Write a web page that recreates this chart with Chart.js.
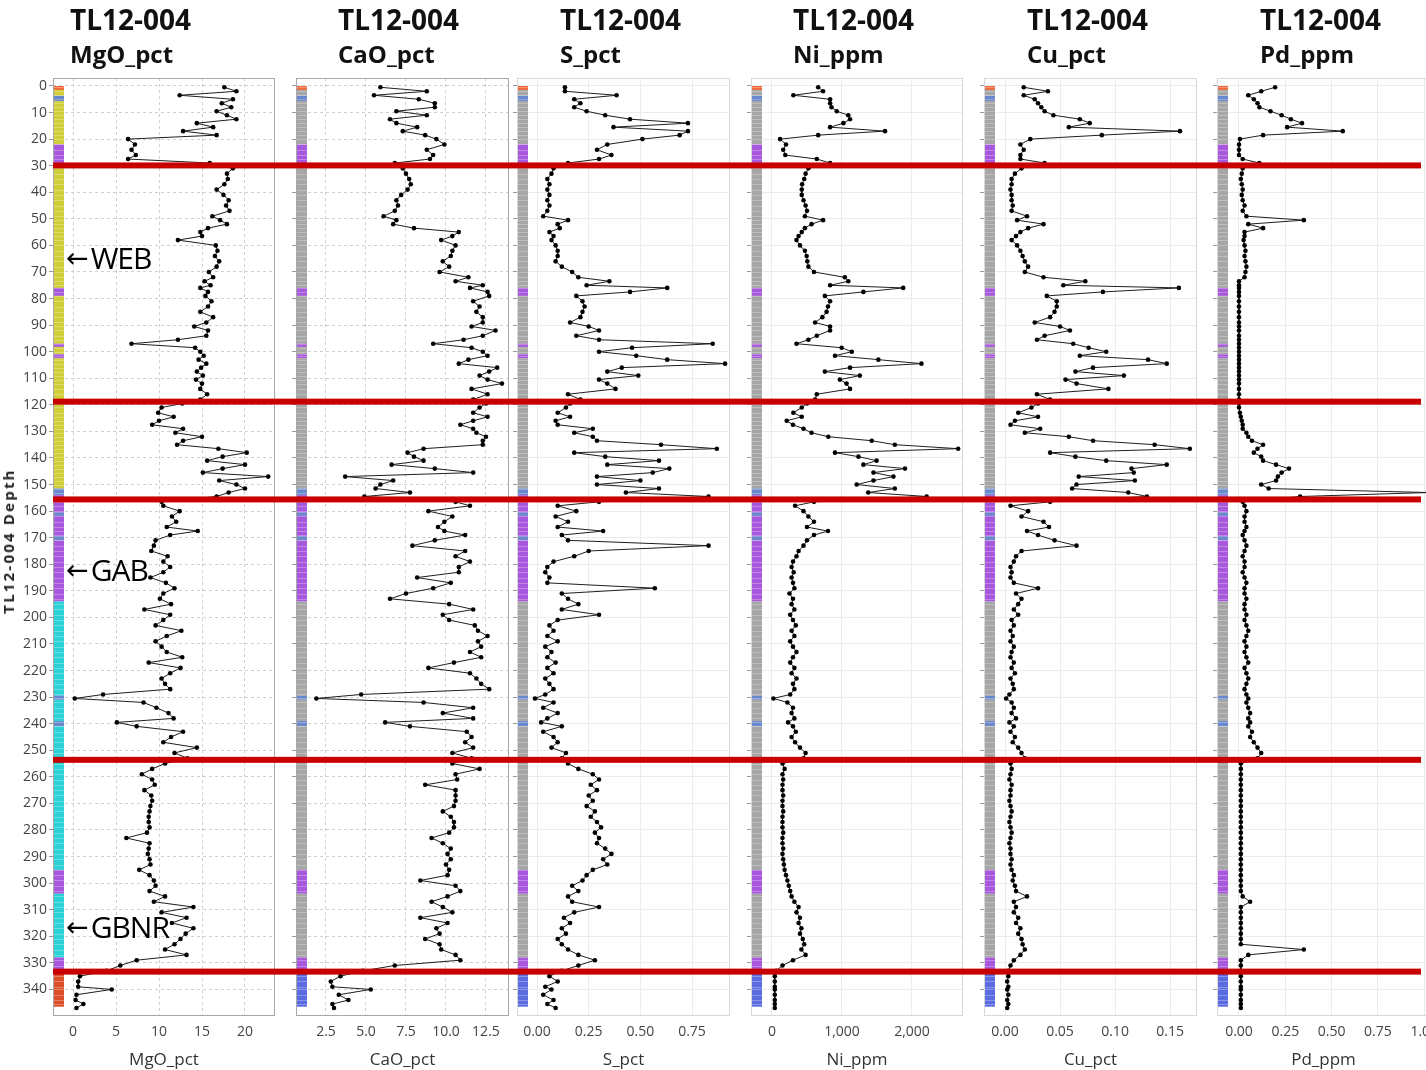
<!DOCTYPE html>
<html><head><meta charset="utf-8">
<script src="https://cdn.jsdelivr.net/npm/chart.js@4.4.1/dist/chart.umd.min.js"></script>
<style>
html,body{margin:0;padding:0;background:#fff;width:1426px;height:1070px;overflow:hidden;}
#wrap{position:relative;width:1426px;height:1070px;overflow:hidden;}
canvas{position:absolute;top:0;}
.t{position:absolute;font-family:"Open Sans";font-weight:700;color:#111;white-space:nowrap;}
.t1{font-size:28px;line-height:28px;top:5px;}
.t2{font-size:24px;line-height:24px;top:42px;}
.ann{position:absolute;font-family:"Open Sans";font-size:30px;line-height:30px;letter-spacing:-1px;color:#000;white-space:nowrap;}
.ann .ar{font-family:"DejaVu Sans";font-size:27px;letter-spacing:0;position:relative;top:-2px;margin-right:2px;}
.ytitle{position:absolute;left:8px;top:541px;transform:translate(-50%,-50%) rotate(-90deg);font-family:"Open Sans";font-weight:700;font-size:15px;letter-spacing:2.2px;color:#222;white-space:nowrap;}
</style></head><body><div id="wrap"></div>
<script>
// ---------- data ----------
const depth = [
 0.5,2,3.5,5,6.5,8,9.5,11,12.5,14,15.5,17,18.5,20,22,24,26,27.5,29,
 31,33,35,37,39,41,43,45,47,49,50.5,52,53.5,55,56.5,58,60,62,64,66,68,70,72,73.5,75,76,77.5,79,81,83,85,87,89,90.5,92,94,95.5,97,98.5,100,101.5,103,104.5,106,107.5,109,110.5,112,114,116,118,119.5,
 121,123,124.5,126,127.5,129,130.5,132,133.5,135,136.5,138,139.5,141,142.5,144,145.5,147,148.5,150,151.5,153,154.5,
 156.5,158,160,162,164,166,167.5,169,171,173,175,177,179,181,183,185,187,189,191,193,195,197,199,201,203,205,207,209,211,213,215,217,219,221,223,225,227,229,230.5,232,234,236,238,239.5,241,243,245,247,249,251,253,
 255,257,259,261,263,265,267,269,271,273,275,277,279,281,283,285,287,289,291,293,295,297,299,301,303,305,307,309,311,313,315,317,319,321,323,325,327,329,331,333,
 335,337,339,340,342,344,345.5,347
];
const mgoPct = [
 17.6,19.0,12.4,18.6,17.3,18.4,16.7,17.9,19.0,14.4,16.3,12.8,16.7,6.4,7.2,6.8,7.3,6.4,15.9,
 18.6,17.9,18.0,17.6,16.7,17.5,18.1,17.8,18.2,16.2, 17.1,17.9,15.7,14.8,15.0,12.2, 16.6,16.8,16.5,17.0,16.7,15.8,16.3, 15.3,16.0,14.8,15.7,15.4, 16.1,15.7,14.8,16.3,15.5, 14.1,15.7, 15.5,12.2,6.8,14.2,14.8,15.2,14.6,15.5,14.9,14.4,15.1,14.3,15.0, 14.8,15.6,14.8,12.7,
 10.3,9.9,11.7,10.0,9.2,12.8,11.9,15.0,12.8,12.1,16.9,20.2,17.4,15.6,20.0,17.4,15.1,22.7,17.0,19.0,20.0,18.1,16.7,
 10.3,10.5, 12.4,11.5,12.0,10.9, 14.5,11.3, 9.6,9.4,9.1,11.0,10.5,11.3,10.5,9.0,10.8,11.8, 10.5,10.1,11.4,8.3,11.3,10.5,9.6,12.6,10.9,9.6, 10.3,10.9,12.7,8.8,12.5,11.3,10.3,10.7,11.3,3.5, 0.2, 8.2,9.7,11.1,11.7, 5.1, 7.4,12.8,11.4,10.5,14.4,11.8,13.3,
 10.7,9.2,8.0,9.2,9.5,8.3,9.1,9.2,9.0,8.9, 8.8,8.8,8.9,8.6,6.2,8.9,8.8,8.7,8.9,9.0, 7.7,8.9,9.4,9.6,8.9,10.7,9.4,14.0,10.3,13.2, 11.5,14.0,13.1,12.5,11.8,10.7,13.2,7.4,5.5,3.9,
 0.8,0.6,0.6,4.5,0.4,0.3,1.2,0.4
];
const caoPct = [
 5.9,8.8,5.5,8.3,9.3,9.3,6.9,8.8,6.5,6.9,8.2,7.3,8.7,9.4,9.9,8.8,9.2,9.0,6.8,
 7.3,7.5,7.7,7.8,7.6,7.2,6.9,7.0,6.8,6.1, 6.9,6.7,8.0,10.8,10.4,9.7, 10.6,10.4,10.3,9.8,10.2,9.6,11.4, 10.6,12.3,11.5,12.6,12.7, 11.7,12.1,11.9,12.3,12.3, 11.6,13.1, 12.3,11.1,9.2,11.6,12.3,12.6,11.4,10.8,13.2,12.7,12.1,12.6,13.5, 11.6,12.6,11.7,12.5,
 12.1,11.7,12.6,11.7,10.9,11.7,11.9,12.5,12.3,12.3,8.6,7.6,8.0,8.6,6.6,9.3,11.7,3.7,6.7,5.9,5.6,7.75,4.9,
 10.6,11.5, 8.9,10.4,9.9,9.5, 9.9,11.2, 9.3,7.9,11.2,10.6,11.5,10.8,10.8,8.2,10.3,9.2, 7.5,6.5,10.2,11.7,9.8,10.2,11.8,12.0,12.6,12.0, 12.2,11.5,12.2,10.5,8.9,11.5,11.9,12.2,12.7,4.7, 1.9, 8.6,11.7,9.8,11.7, 6.2, 7.75,11.3,11.6,11.2,11.7,10.4,11.6,
 10.4,12.1,10.6,10.7,8.7,10.6,10.6,10.6,10.5,9.8, 10.3,10.5,10.5,10.2,9.1,9.8,10.3,10.1,10.3,10.0, 10.2,10.1,8.4,10.6,10.9,10.1,9.1,9.8,10.4,8.4, 10.1,9.4,9.6,8.7,9.6,9.7,10.6,10.9,6.8,4.8,
 3.4,2.8,2.9,5.3,3.3,3.9,2.9,3.0
];
const sPct = [
 0.135,0.135,0.385,0.18,0.21,0.18,0.24,0.33,0.45,0.73,0.37,0.73,0.69,0.51,0.34,0.29,0.36,0.30,0.15,
 0.08,0.07,0.05,0.06,0.05,0.06,0.05,0.06,0.05,0.03, 0.15,0.10,0.11,0.06,0.08,0.07, 0.09,0.10,0.10,0.09,0.12,0.17,0.20, 0.35,0.24,0.63,0.45,0.19, 0.22,0.23,0.22,0.21,0.16, 0.25,0.30, 0.19,0.30,0.85,0.46,0.30,0.48,0.63,0.91,0.41,0.34,0.49,0.30,0.34, 0.38,0.15,0.21,0.16,
 0.14,0.10,0.16,0.09,0.10,0.27,0.18,0.27,0.29,0.60,0.87,0.18,0.33,0.59,0.34,0.64,0.56,0.29,0.50,0.29,0.59,0.43,0.83,
 0.30,0.10, 0.19,0.09,0.15,0.10, 0.32,0.12, 0.15,0.83,0.25,0.18,0.08,0.05,0.04,0.06,0.05,0.57, 0.12,0.15,0.20,0.12,0.30,0.10,0.06,0.08,0.05,0.10, 0.04,0.07,0.05,0.09,0.05,0.08,0.04,0.06,0.08,0.04, -0.01, 0.08,0.03,0.10,0.05, 0.02, 0.12,0.03,0.08,0.10,0.07,0.14,0.12,
 0.15,0.20,0.27,0.30,0.26,0.29,0.25,0.27,0.24,0.28, 0.26,0.29,0.31,0.28,0.30,0.29,0.33,0.36,0.32,0.34, 0.27,0.24,0.22,0.17,0.20,0.15,0.17,0.30,0.18,0.13, 0.16,0.12,0.14,0.10,0.12,0.15,0.20,0.28,0.20,0.12,
 0.06,0.10,0.04,0.07,0.03,0.08,0.05,0.09
];
const niPpm = [
 660,730,305,830,830,850,925,1090,1115,1020,830,1615,660,115,200,160,190,640,830,
 520,480,460,430,425,425,450,480,500,470, 730,565,470,425,380,350, 400,470,495,505,520,600,1040, 1090,830,1875,1305,755, 830,800,780,720,615, 830,830, 640,520,350,995,1140,900,1520,2135,1115,755,1255,970,1065, 1115,640,615,500,
 425,305,425,210,300,450,565,805,1425,1755,2660,900,1235,1495,1305,1900,1450,1735,1450,1210,1755,1375,2210,
 600,330, 450,520,600,500, 800,600, 500,450,380,350,300,280,310,280,300,320, 250,300,280,320,260,300,340,280,320,260, 300,350,300,260,320,280,350,300,320,260, 20, 220,300,280,320, 230, 300,340,280,330,400,480,450,
 150,180,150,160,150,150,160,150,150,160, 150,150,150,160,150,150,160,150,160,170, 180,200,220,240,260,280,320,380,350,400, 380,420,400,440,460,420,480,300,150,60,
 40,40,40,40,40,40,40,40
];
const cuPct = [
 0.017,0.039,0.017,0.027,0.030,0.033,0.036,0.044,0.068,0.077,0.058,0.159,0.088,0.023,0.014,0.017,0.014,0.014,0.036,
 0.015,0.009,0.006,0.006,0.005,0.006,0.006,0.007,0.006,0.020, 0.011,0.035,0.021,0.014,0.010,0.006, 0.011,0.014,0.016,0.018,0.021,0.018,0.035, 0.073,0.053,0.158,0.089,0.038, 0.047,0.047,0.045,0.041,0.027, 0.050,0.059, 0.036,0.029,0.062,0.076,0.092,0.068,0.130,0.147,0.080,0.064,0.108,0.055,0.065, 0.094,0.029,0.041,0.030,
 0.024,0.012,0.030,0.009,0.005,0.032,0.018,0.058,0.080,0.136,0.168,0.041,0.064,0.092,0.147,0.115,0.117,0.067,0.118,0.065,0.061,0.112,0.129,
 0.041,0.005, 0.021,0.015,0.035,0.040, 0.020,0.030, 0.045,0.065,0.015,0.010,0.008,0.005,0.006,0.005,0.008,0.030, 0.010,0.015,0.012,0.008,0.012,0.006,0.008,0.005,0.007,0.005, 0.008,0.006,0.005,0.008,0.006,0.009,0.005,0.007,0.008,0.004, 0.001, 0.006,0.008,0.006,0.010, 0.004, 0.008,0.005,0.009,0.007,0.012,0.015,0.018,
 0.005,0.006,0.005,0.004,0.006,0.005,0.005,0.004,0.005,0.006, 0.005,0.004,0.005,0.006,0.005,0.004,0.005,0.005,0.006,0.005, 0.006,0.008,0.007,0.009,0.010,0.020,0.008,0.010,0.008,0.012, 0.010,0.014,0.012,0.015,0.016,0.018,0.014,0.008,0.005,0.003,
 0.003,0.002,0.003,0.002,0.003,0.002,0.003,0.002
];
const pdPpm = [
 0.195,0.12,0.05,0.08,0.10,0.11,0.17,0.23,0.28,0.34,0.26,0.56,0.13,0.005,0.0,0.0,0.0,0.02,0.11,
 0.02,0.015,0.01,0.015,0.02,0.015,0.02,0.03,0.02,0.04, 0.35,0.05,0.13,0.03,0.03,0.025, 0.03,0.035,0.03,0.035,0.04,0.035,0.03, 0.0,0.0,0.0,0.0,0.0, 0.0,0.0,0.0,0.0,0.0, 0.0,0.0, 0.0,0.0,0.0,0.0,0.0,0.0,0.0,0.0,0.0,0.0,0.0,0.0,0.0, 0.0,0.0,0.0,0.0,
 0.0,0.005,0.01,0.015,0.02,0.02,0.04,0.05,0.07,0.13,0.10,0.08,0.12,0.13,0.20,0.27,0.23,0.21,0.20,0.12,0.16,1.02,0.33,
 0.02,0.03, 0.04,0.03,0.03,0.04, 0.03,0.02, 0.03,0.04,0.03,0.02,0.03,0.03,0.02,0.03,0.04,0.03, 0.03,0.04,0.03,0.03,0.04,0.03,0.04,0.05,0.04,0.03, 0.04,0.03,0.04,0.05,0.03,0.04,0.05,0.04,0.03,0.04, 0.05, 0.04,0.05,0.06,0.05, 0.06, 0.05,0.07,0.06,0.08,0.10,0.12,0.10,
 0.01,0.01,0.01,0.01,0.01,0.01,0.01,0.01,0.01,0.01, 0.01,0.01,0.01,0.01,0.01,0.01,0.01,0.01,0.01,0.01, 0.01,0.01,0.01,0.01,0.01,0.02,0.06,0.01,0.01,0.01, 0.01,0.01,0.01,0.01,0.01,0.35,0.05,0.01,0.01,0.01,
 0.01,0.01,0.01,0.01,0.01,0.01,0.01,0.01
];
// lithology log intervals
const lithTop  = [0,1.5,3.7,5.7,22,29.5,76,79,97,98.2,101,102.5,151.5,154,160.5,161.8,169.5,171,194,229.5,231,239,241,295,304,328,333.5];
const lithBase = [1.5,3.7,5.7,22,29.5,76,79,97,98.2,101,102.5,151.5,154,160.5,161.8,169.5,171,194,229.5,231,239,241,295,304,328,333.5,346.5];
const lithCode = ['O','Y','B','Y','P','Y','P','Y','P','Y','P','Y','B','P','B','P','B','P','C','B','C','B','C','P','C','P','R'];
// unit boundaries (red lines)
const boundaryDepths = [29.9,118.8,155.6,253.6,333.3];
// tick values and labels
const depthTicks = [0,10,20,30,40,50,60,70,80,90,100,110,120,130,140,150,160,170,180,190,200,210,220,230,240,250,260,270,280,290,300,310,320,330,340];
const mgoTicks = [0,5,10,15,20];           const mgoLabels = ['0','5','10','15','20'];
const caoTicks = [2.5,5,7.5,10,12.5];      const caoLabels = ['2.5','5.0','7.5','10.0','12.5'];
const sTicks = [0,0.25,0.5,0.75];          const sLabels = ['0.00','0.25','0.50','0.75'];
const niTicks = [0,1000,2000];             const niLabels = ['0','1,000','2,000'];
const cuTicks = [0,0.05,0.10,0.15];        const cuLabels = ['0.00','0.05','0.10','0.15'];
const pdTicks = [0,0.25,0.5,0.75,1.0];     const pdLabels = ['0.00','0.25','0.50','0.75','1.00'];
const holeId = 'TL12-004';
const unitNames = ['WEB','GAB','GBNR'];
const unitTops = [243,555,912];

// ---------- styling ----------
const colorsMgO = {O:'#f06a3c',Y:'#d0cf3a',B:'#6a88cc',P:'#a858dc',C:'#2cd2d6',R:'#dc4e2a'};
const colorsOther = {O:'#f06a3c',Y:'#a6a6a6',B:'#6a88cc',P:'#a858dc',C:'#a6a6a6',R:'#5a6ce0'};

Chart.defaults.font.family = 'Open Sans';

const decor = {
  id:'decor',
  beforeDatasetsDraw(chart, args, o){
    const ctx = chart.ctx, ca = chart.chartArea, ys = chart.scales.y;
    ctx.save();
    ctx.strokeStyle = o.frame; ctx.lineWidth = 1;
    ctx.strokeRect(ca.left+0.5, ca.top+0.5, ca.right-ca.left-1, ca.bottom-ca.top-1);
    for (let i=0;i<lithTop.length;i++){
      const y1 = ys.getPixelForValue(lithTop[i]), y2 = ys.getPixelForValue(lithBase[i]);
      ctx.fillStyle = o.colors[lithCode[i]];
      ctx.fillRect(ca.left+1, y1, 10, y2-y1);
    }
    ctx.fillStyle = 'rgba(255,255,255,0.28)';
    for (const d of depth){ if (d<346){ const y = ys.getPixelForValue(d); ctx.fillRect(ca.left+1, Math.round(y), 10, 1);} }
    ctx.restore();
  },
  afterDraw(chart, args, o){
    const ctx = chart.ctx, ca = chart.chartArea, ys = chart.scales.y;
    ctx.save();
    ctx.fillStyle = '#c80000';
    const x0 = o.first ? ca.left : 0;
    const x1 = o.lineEnd;
    for (const d of boundaryDepths){
      const y = ys.getPixelForValue(d);
      ctx.fillRect(x0, y-3, x1-x0, 6);
    }
    ctx.restore();
  }
};

const panels = [
  {name:'MgO_pct', vals:mgoPct, ticks:mgoTicks, labels:mgoLabels, left:0,    w:285, yw:53, padR:10, xmin:-2.33, xmax:23.49, first:true,  classic:true,  titleX:70},
  {name:'CaO_pct', vals:caoPct, ticks:caoTicks, labels:caoLabels, left:285,  w:227, yw:11, padR:3,  xmin:0.625, xmax:13.94, first:false, classic:true,  titleX:338},
  {name:'S_pct',   vals:sPct,   ticks:sTicks,   labels:sLabels,   left:512,  w:233, yw:5,  padR:15, xmin:-0.0968, xmax:0.9337, first:false, classic:false, titleX:560},
  {name:'Ni_ppm',  vals:niPpm,  ticks:niTicks,  labels:niLabels,  left:745,  w:233, yw:6,  padR:15, xmin:-300, xmax:2729, first:false, classic:false, titleX:793},
  {name:'Cu_pct',  vals:cuPct,  ticks:cuTicks,  labels:cuLabels,  left:978,  w:234, yw:6,  padR:15, xmin:-0.0191, xmax:0.1745, first:false, classic:false, titleX:1027},
  {name:'Pd_ppm',  vals:pdPpm,  ticks:pdTicks,  labels:pdLabels,  left:1212, w:238, yw:5,  padR:20, xmin:-0.1187, xmax:1.031, first:false, classic:false, titleX:1260, lineEnd:1421-1212}
];

const wrap = document.getElementById('wrap');
panels.forEach(p => {
  const cv = document.createElement('canvas');
  cv.width = p.w; cv.height = 1070; cv.style.left = p.left+'px';
  cv.style.width = p.w+'px'; cv.style.height = '1070px';
  wrap.appendChild(cv);
  const gridColor = p.classic ? '#cfcfcf' : '#ececec';
  const dash = p.classic ? [3,3] : [];
  new Chart(cv, {
    type:'scatter',
    data:{datasets:[{
      label:p.name,
      data: depth.map((d,i)=>({x:p.vals[i], y:d})),
      showLine:true, borderColor:'#1e1e1e', borderWidth:1,
      pointRadius:2.3, pointBackgroundColor:'#000', pointBorderWidth:0, pointHoverRadius:2.3,
      clip:false
    }]},
    options:{
      responsive:false, animation:false, devicePixelRatio:1,
      events:[],
      layout:{padding:{top:78, right:p.padR, left:0, bottom:0}},
      plugins:{legend:{display:false}, tooltip:{enabled:false},
        decor:{colors: p.first ? colorsMgO : colorsOther, frame: p.classic ? '#a8a8a8' : '#d8d8d8', first:p.first, lineEnd: p.lineEnd || p.w}},
      scales:{
        x:{type:'linear', position:'bottom', min:p.xmin, max:p.xmax,
          afterBuildTicks: s => { s.ticks = p.ticks.map(v=>({value:v})); },
          afterFit: s => { s.height = 54; },
          ticks:{callback:(v,i)=>p.labels[i], font:{size:14}, color:'#444', padding:8, maxRotation:0, minRotation:0, autoSkip:false},
          grid:{color:gridColor, drawTicks:false},
          border:{display:false, dash:dash},
          title:{display:true, text:p.name, font:{size:17}, color:'#333', padding:{top:9,bottom:0}}
        },
        y:{type:'linear', reverse:true, min:-3, max:350,
          afterBuildTicks: s => { s.ticks = depthTicks.map(v=>({value:v})); },
          afterFit: s => { s.width = p.yw; },
          ticks:{display:p.first, font:{size:14}, color:'#444', padding:2, autoSkip:false},
          grid:{color:gridColor, drawTicks:true, tickLength:4, tickColor:'#999'},
          border:{display:false, dash:dash},
          title:{display:false}
        }
      }
    },
    plugins:[decor]
  });
  const t1 = document.createElement('div'); t1.className='t t1'; t1.style.left=p.titleX+'px'; t1.textContent=holeId; wrap.appendChild(t1);
  const t2 = document.createElement('div'); t2.className='t t2'; t2.style.left=p.titleX+'px'; t2.textContent=p.name; wrap.appendChild(t2);
});
// rotated depth-axis title
const yt = document.createElement('div'); yt.className='ytitle'; yt.textContent = holeId+' Depth'; wrap.appendChild(yt);
// unit annotations
unitNames.forEach((n,i) => {
  const a = document.createElement('div'); a.className='ann'; a.style.left='66px'; a.style.top=unitTops[i]+'px';
  const ar = document.createElement('span'); ar.className='ar'; ar.textContent='←';
  a.appendChild(ar); a.appendChild(document.createTextNode(n));
  wrap.appendChild(a);
});
</script>
</body></html>
